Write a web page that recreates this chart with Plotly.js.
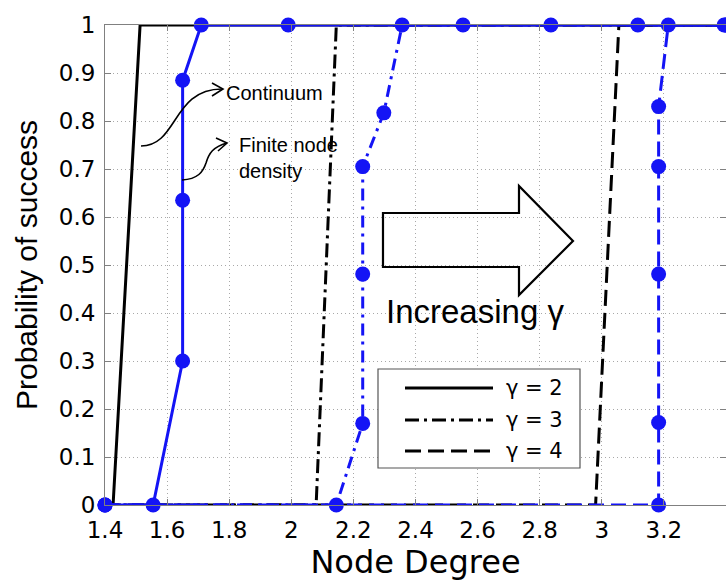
<!DOCTYPE html>
<html>
<head>
<meta charset="utf-8">
<script src="https://cdn.plot.ly/plotly-3.0.1.min.js"></script>
<style>html,body{margin:0;padding:0;background:#fff;}#chart{width:726px;height:583px;}</style>
</head>
<body>
<div id="chart"></div>
<script>
// ---- data ----
// Continuum (black) curves
const contG2X = [1.4, 1.426, 1.513, 3.4];
const contG2Y = [0, 0, 1, 1];
const contG3X = [1.4, 2.08, 2.145, 3.4];
const contG3Y = [0, 0, 1, 1];
const contG4X = [1.4, 2.98, 3.055, 3.4];
const contG4Y = [0, 0, 1, 1];
// Finite node density (blue, with markers)
const finG2X = [1.4, 1.555, 1.65, 1.65, 1.65, 1.71, 1.99, 2.553, 2.836, 3.116, 3.394];
const finG2Y = [0, 0, 0.30, 0.635, 0.885, 1, 1, 1, 1, 1, 1];
const finG3X = [1.4, 2.145, 2.23, 2.23, 2.23, 2.298, 2.357, 3.4];
const finG3Y = [0, 0, 0.17, 0.481, 0.705, 0.817, 1, 1];
const finG4X = [1.4, 3.183, 3.183, 3.183, 3.183, 3.183, 3.214, 3.4];
const finG4Y = [0, 0, 0.172, 0.481, 0.705, 0.83, 1, 1];
// axis ticks
const xTickVals = [1.4, 1.6, 1.8, 2.0, 2.2, 2.4, 2.6, 2.8, 3.0, 3.2];
const xTickText = ['1.4', '1.6', '1.8', '2', '2.2', '2.4', '2.6', '2.8', '3', '3.2'];
const yTickVals = [0, 0.1, 0.2, 0.3, 0.4, 0.5, 0.6, 0.7, 0.8, 0.9, 1];
const yTickText = ['0', '0.1', '0.2', '0.3', '0.4', '0.5', '0.6', '0.7', '0.8', '0.9', '1'];
const legendLabels = ['\u03b3 = 2', '\u03b3 = 3', '\u03b3 = 4'];

// ---- styling / layout ----
const BLUE = 'rgb(20,20,245)';
const blackDash = ['solid', '14px,5px,3px,5px', '16px,7px'];
const blueDash = ['solid', '12px,6px,3px,6px', '15px,7px'];

// pixel -> data helpers for decorative annotations
const L = 105, R = 726, T = 25, B = 505;
const X = px => 1.4 + (px - L) / (R - L) * 2.0;
const Y = py => (B - py) / (B - T);

function blackTrace(x, y, dash) {
  return {x: x, y: y, mode: 'lines', type: 'scatter', showlegend: false, cliponaxis: false,
    line: {color: 'black', width: 3, dash: dash}, hoverinfo: 'skip'};
}
function blueTrace(x, y, dash) {
  return {x: x, y: y, mode: 'lines+markers', type: 'scatter', showlegend: false, cliponaxis: false,
    line: {color: BLUE, width: 3, dash: dash}, marker: {color: BLUE, size: 15}, hoverinfo: 'skip'};
}

const traces = [
  blackTrace(contG2X, contG2Y, blackDash[0]),
  blackTrace(contG3X, contG3Y, blackDash[1]),
  blackTrace(contG4X, contG4Y, blackDash[2]),
  blueTrace(finG4X, finG4Y, blueDash[2]),
  blueTrace(finG3X, finG3Y, blueDash[1]),
  blueTrace(finG2X, finG2Y, blueDash[0])
];

function P(pts) { // pixel points -> path string in data coords
  return pts.map(p => X(p[0]).toFixed(4) + ',' + Y(p[1]).toFixed(4)).join(' ');
}

const shapes = [];
// Big outlined arrow
shapes.push({type: 'path', xref: 'x', yref: 'y', layer: 'above',
  path: 'M ' + P([[383,213]]) + ' L ' + P([[519,213]]) + ' L ' + P([[519,186]]) + ' L ' + P([[573,241]]) +
        ' L ' + P([[519,295]]) + ' L ' + P([[519,267]]) + ' L ' + P([[383,267]]) + ' Z',
  line: {color: 'black', width: 2.2}, fillcolor: 'rgba(0,0,0,0)'});
// Curved arrow to "Continuum"
shapes.push({type: 'path', xref: 'x', yref: 'y', layer: 'above',
  path: 'M ' + P([[141,146]]) + ' C ' + P([[178,146],[172,89],[222,89]]),
  line: {color: 'black', width: 1.6}});
shapes.push({type: 'path', xref: 'x', yref: 'y', layer: 'above',
  path: 'M ' + P([[212,83]]) + ' L ' + P([[223,89]]) + ' L ' + P([[212,96]]),
  line: {color: 'black', width: 1.6}});
// Wavy arrow to "Finite node density"
shapes.push({type: 'path', xref: 'x', yref: 'y', layer: 'above',
  path: 'M ' + P([[182,180]]) + ' C ' + P([[198,179],[203,172],[206,163]]) + ' C ' + P([[209,153],[213,147],[227,143]]),
  line: {color: 'black', width: 1.6}});
shapes.push({type: 'path', xref: 'x', yref: 'y', layer: 'above',
  path: 'M ' + P([[216,138]]) + ' L ' + P([[227,143]]) + ' L ' + P([[218,151]]),
  line: {color: 'black', width: 1.6}});
// Custom legend box and samples
shapes.push({type: 'rect', xref: 'x', yref: 'y', layer: 'above',
  x0: X(378), x1: X(580), y0: Y(369), y1: Y(468),
  line: {color: '#555', width: 1.2}, fillcolor: 'white'});
const legY = [388, 420, 451];
for (let i = 0; i < 3; i++) {
  shapes.push({type: 'line', xref: 'x', yref: 'y', layer: 'above',
    x0: X(405), x1: X(493), y0: Y(legY[i]), y1: Y(legY[i]),
    line: {color: 'black', width: 3, dash: blackDash[i]}});
}

const annotations = [
  {x: X(224), y: Y(93), xref: 'x', yref: 'y', xanchor: 'left', yanchor: 'middle', showarrow: false,
   text: 'Continuum', font: {family: 'Liberation Sans, Arial, sans-serif', size: 20, color: 'black'}},
  {x: X(237), y: Y(158), xref: 'x', yref: 'y', xanchor: 'left', yanchor: 'middle', align: 'left', showarrow: false,
   text: 'Finite node<br>density', font: {family: 'Liberation Sans, Arial, sans-serif', size: 20, color: 'black'}},
  {x: X(384), y: Y(311), xref: 'x', yref: 'y', xanchor: 'left', yanchor: 'middle', showarrow: false,
   text: 'Increasing \u03b3', font: {family: 'Liberation Sans, Arial, sans-serif', size: 33, color: 'black'}}
];
for (let i = 0; i < 3; i++) {
  annotations.push({x: X(504), y: Y(legY[i]), xref: 'x', yref: 'y', xanchor: 'left', yanchor: 'middle',
    showarrow: false, text: legendLabels[i], font: {family: 'DejaVu Sans, sans-serif', size: 21, color: 'black'}});
}

const axisCommon = {
  showgrid: true, gridcolor: '#a8a8a8', griddash: '1px,3px', gridwidth: 1,
  showline: true, linecolor: '#808080', linewidth: 1, mirror: 'ticks',
  ticks: 'inside', ticklen: 6, tickcolor: '#808080', zeroline: false,
  tickfont: {family: 'DejaVu Sans, sans-serif', size: 23, color: 'black'}
};

const layout = {
  width: 726, height: 583,
  margin: {l: L, r: 726 - R, t: T, b: 583 - B, pad: 0},
  paper_bgcolor: 'white', plot_bgcolor: 'white',
  showlegend: false,
  xaxis: Object.assign({}, axisCommon, {
    range: [1.4, 3.4], tickmode: 'array', tickvals: xTickVals, ticktext: xTickText,
    ticklabelstandoff: 4,
    title: {text: 'Node Degree', font: {family: 'DejaVu Sans, sans-serif', size: 32, color: 'black'}, standoff: 6}
  }),
  yaxis: Object.assign({}, axisCommon, {
    range: [0, 1], tickmode: 'array', tickvals: yTickVals, ticktext: yTickText,
    ticklabelstandoff: 4,
    title: {text: 'Probability of success', font: {family: 'Liberation Sans, Arial, sans-serif', size: 30, color: 'black'}, standoff: 12}
  }),
  shapes: shapes,
  annotations: annotations
};

Plotly.newPlot('chart', traces, layout, {displayModeBar: false, staticPlot: true});
</script>
</body>
</html>
